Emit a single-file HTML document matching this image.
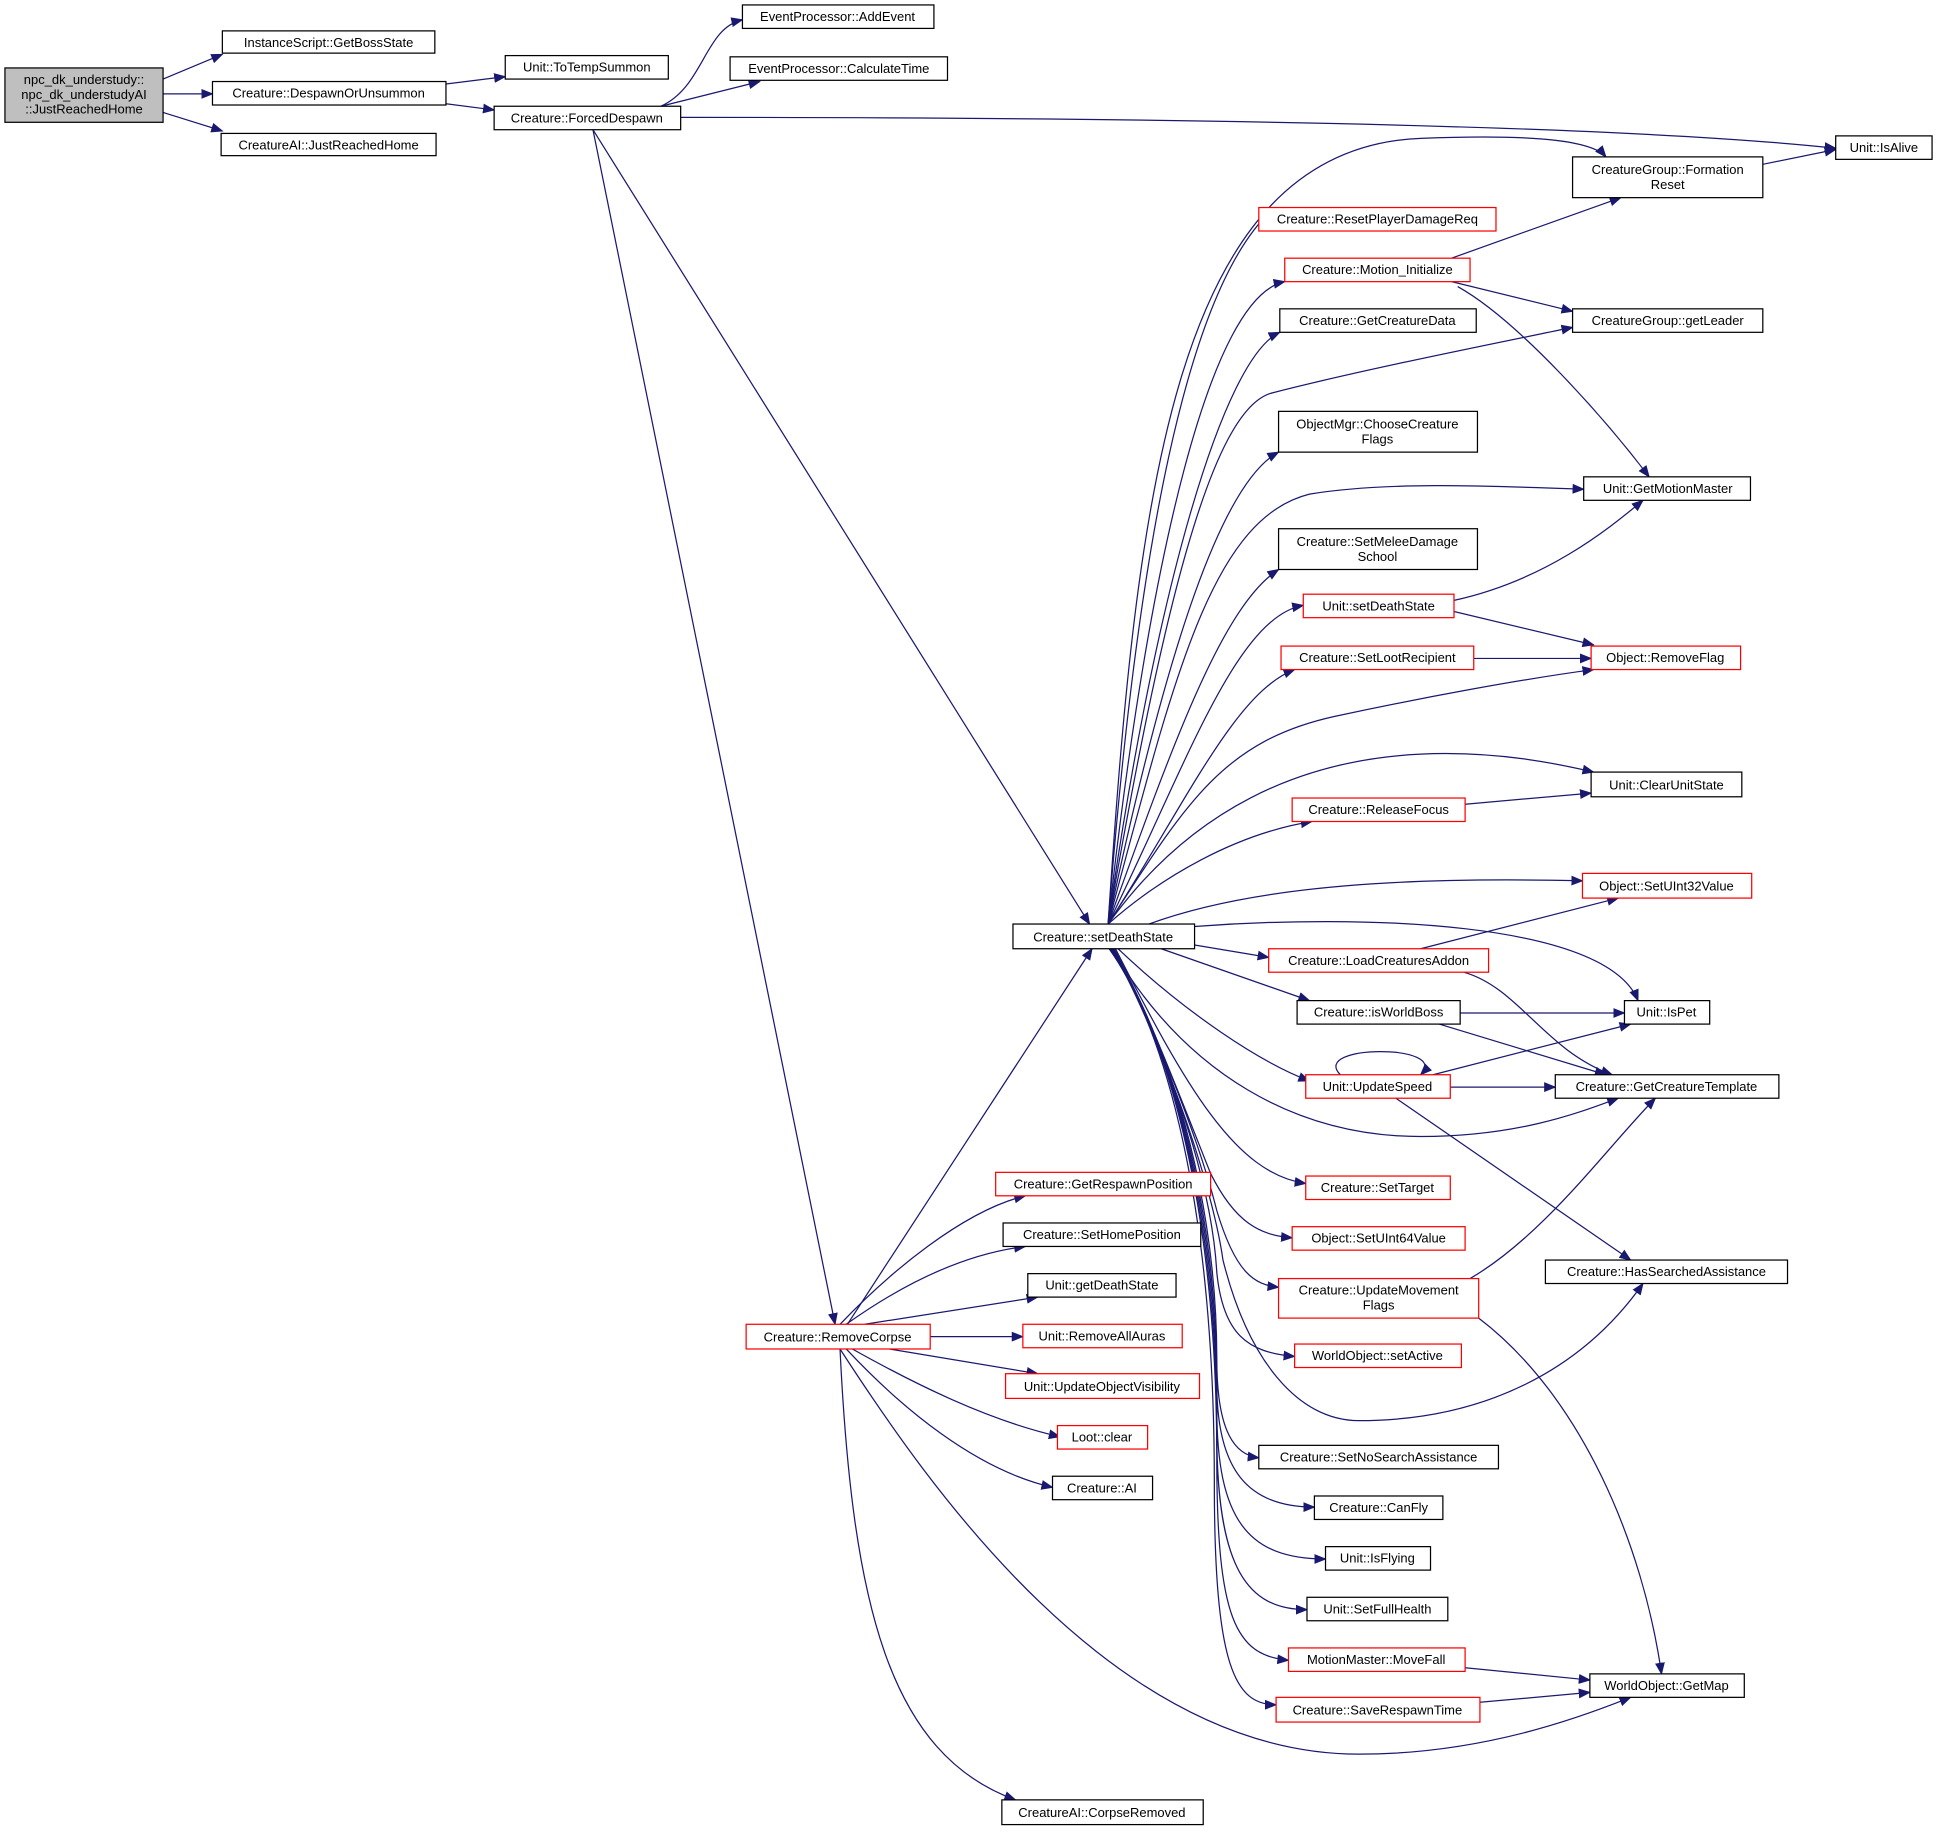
<!DOCTYPE html>
<html><head><meta charset="utf-8"><style>
html,body{margin:0;padding:0;background:#fff}
svg{display:block}
text{font-family:"Liberation Sans","DejaVu Sans",sans-serif;font-size:10.5px;fill:#000}
.n{fill:#fff;stroke:#000;stroke-width:1}
.r{fill:#fff;stroke:#f00;stroke-width:1}
.e{fill:none;stroke:#191970;stroke-width:1}
</style></head><body>
<svg width="1937" height="1832" viewBox="0 0 1568 1483" xmlns="http://www.w3.org/2000/svg">
<defs><marker id="a" markerWidth="10" markerHeight="8" refX="9" refY="4" orient="auto" markerUnits="userSpaceOnUse"><path d="M0,0 L10,4 L0,8 z" fill="#191970"/></marker></defs>
<g class="e" marker-end="url(#a)">
<path d="M132,64 L180,44"/>
<path d="M132,76 L172,76"/>
<path d="M132,91 L180,106"/>
<path d="M361,68 L409,62"/>
<path d="M361,84 L400,89"/>
<path d="M535,86 C570,70 570,23 601,16"/>
<path d="M535,86 L615,66"/>
<path d="M551,95 C900,95 1300,100 1486,120"/>
<path d="M480,105 L882,748"/>
<path d="M480,105 L676,1072"/>
<path d="M686,1072 L884,768"/>
<path d="M1427,133 L1486,121"/>
<path d="M1175,209 L1312,160"/>
<path d="M1175,228 L1273,252"/>
<path d="M1180,232 C1230,260 1300,340 1335,386"/>
<path d="M1177,486 C1250,470 1300,430 1330,405"/>
<path d="M1177,495 L1290,522"/>
<path d="M1193,533 L1288,533"/>
<path d="M1186,651 L1288,642"/>
<path d="M1150,768 L1310,727"/>
<path d="M1185,787 C1230,800 1250,850 1305,870"/>
<path d="M1182,820 L1315,820"/>
<path d="M1165,829 L1300,870"/>
<path d="M1085,870 C1060,845 1175,845 1150,870"/>
<path d="M1160,870 L1320,829"/>
<path d="M1174,880 L1259,880"/>
<path d="M1130,889 L1320,1020"/>
<path d="M1190,1035 C1250,1000 1300,930 1340,889"/>
<path d="M1197,1067 C1280,1130 1330,1250 1345,1355"/>
<path d="M1186,1350 L1287,1360"/>
<path d="M1198,1378 L1287,1370"/>
<path d="M680,1072 C720,1030 780,980 830,968"/>
<path d="M685,1072 C730,1040 780,1015 830,1009"/>
<path d="M700,1072 L840,1050"/>
<path d="M753,1082 L828,1082"/>
<path d="M720,1092 L840,1112"/>
<path d="M690,1092 C740,1120 800,1150 858,1163"/>
<path d="M685,1092 C730,1140 790,1190 852,1204"/>
<path d="M680,1092 C750,1200 900,1420 1100,1420 C1200,1420 1280,1390 1320,1374"/>
<path d="M680,1092 C690,1300 720,1420 822,1457"/>
<path d="M897,748 C920,400 950,120 1150,112 C1250,108 1290,115 1300,127"/>
<path d="M897,748 C920,450 960,230 1032,168"/>
<path d="M897,748 C930,450 980,240 1040,228"/>
<path d="M897,748 C935,480 990,290 1036,269"/>
<path d="M897,748 C940,500 980,330 1030,318 C1100,300 1200,280 1273,265"/>
<path d="M897,748 C945,520 990,390 1035,366"/>
<path d="M897,748 C950,550 980,420 1060,400 C1120,390 1200,393 1282,396"/>
<path d="M897,748 C950,600 990,490 1035,461"/>
<path d="M897,748 C960,620 1000,500 1055,490"/>
<path d="M897,748 C960,650 1000,560 1048,542"/>
<path d="M897,748 C960,650 990,600 1080,580 C1150,565 1230,550 1290,542"/>
<path d="M897,748 C960,660 1050,610 1170,610 C1220,610 1260,618 1290,625"/>
<path d="M897,748 C940,710 1000,675 1062,665"/>
<path d="M930,748 C1020,715 1150,710 1281,713"/>
<path d="M967,765 L1027,775"/>
<path d="M967,750 C1100,740 1300,745 1326,810"/>
<path d="M940,768 L1060,810"/>
<path d="M905,768 C960,820 1020,860 1060,875"/>
<path d="M900,768 C960,870 1050,920 1150,920 C1230,920 1280,900 1310,889"/>
<path d="M903,768 C960,880 1000,950 1057,958"/>
<path d="M902,768 C930,820 960,900 980,950 C1000,990 1020,1000 1046,1002"/>
<path d="M901,768 C930,820 970,920 985,980 C1000,1030 1015,1040 1035,1042"/>
<path d="M900,768 C930,820 980,940 985,1030 C990,1080 1010,1095 1048,1098"/>
<path d="M900,768 C935,830 980,950 990,1020 C1010,1100 1050,1150 1100,1150 C1200,1150 1280,1110 1330,1039"/>
<path d="M899,768 C935,820 985,950 985,1100 C985,1160 1000,1178 1019,1180"/>
<path d="M899,768 C935,820 985,950 985,1120 C985,1190 1010,1220 1064,1220"/>
<path d="M898,768 C935,820 985,950 985,1140 C985,1230 1010,1262 1073,1262"/>
<path d="M898,768 C935,820 985,950 985,1160 C985,1270 1010,1303 1058,1303"/>
<path d="M898,768 C935,820 985,950 985,1180 C985,1310 1000,1340 1043,1344"/>
<path d="M898,768 C935,820 983,950 983,1200 C983,1350 1000,1380 1033,1380"/>
</g>
<g>
<rect x="4" y="55" width="128" height="44" fill="#bfbfbf" stroke="#000"/>
<text x="68" y="68" text-anchor="middle">npc_dk_understudy::</text>
<text x="68" y="80" text-anchor="middle">npc_dk_understudyAI</text>
<text x="68" y="92" text-anchor="middle">::JustReachedHome</text>
</g>
<g text-anchor="middle">
<rect class="n" x="180" y="25" width="172" height="18"/><text x="266" y="38">InstanceScript::GetBossState</text>
<rect class="n" x="172" y="66" width="189" height="19"/><text x="266" y="79">Creature::DespawnOrUnsummon</text>
<rect class="n" x="179" y="108" width="174" height="18"/><text x="266" y="121">CreatureAI::JustReachedHome</text>
<rect class="n" x="409" y="45" width="132" height="19"/><text x="475" y="58">Unit::ToTempSummon</text>
<rect class="n" x="400" y="86" width="151" height="19"/><text x="475" y="99">Creature::ForcedDespawn</text>
<rect class="n" x="601" y="4" width="155" height="19"/><text x="678" y="17">EventProcessor::AddEvent</text>
<rect class="n" x="591" y="46" width="176" height="19"/><text x="679" y="59">EventProcessor::CalculateTime</text>
<rect class="n" x="1486" y="110" width="78" height="19"/><text x="1525" y="123">Unit::IsAlive</text>
<rect class="n" x="1273" y="127" width="154" height="33"/><text x="1350" y="141">CreatureGroup::Formation</text><text x="1350" y="153">Reset</text>
<rect class="r" x="1019" y="168" width="192" height="19"/><text x="1115" y="181">Creature::ResetPlayerDamageReq</text>
<rect class="r" x="1040" y="209" width="150" height="19"/><text x="1115" y="222">Creature::Motion_Initialize</text>
<rect class="n" x="1036" y="250" width="159" height="19"/><text x="1115" y="263">Creature::GetCreatureData</text>
<rect class="n" x="1273" y="250" width="154" height="19"/><text x="1350" y="263">CreatureGroup::getLeader</text>
<rect class="n" x="1035" y="333" width="161" height="33"/><text x="1115" y="347">ObjectMgr::ChooseCreature</text><text x="1115" y="359">Flags</text>
<rect class="n" x="1282" y="386" width="135" height="19"/><text x="1350" y="399">Unit::GetMotionMaster</text>
<rect class="n" x="1035" y="428" width="161" height="33"/><text x="1115" y="442">Creature::SetMeleeDamage</text><text x="1115" y="454">School</text>
<rect class="r" x="1055" y="481" width="122" height="19"/><text x="1116" y="494">Unit::setDeathState</text>
<rect class="r" x="1037" y="523" width="156" height="19"/><text x="1115" y="536">Creature::SetLootRecipient</text>
<rect class="r" x="1288" y="523" width="121" height="19"/><text x="1348" y="536">Object::RemoveFlag</text>
<rect class="n" x="1288" y="625" width="122" height="20"/><text x="1349" y="639">Unit::ClearUnitState</text>
<rect class="r" x="1046" y="646" width="140" height="19"/><text x="1116" y="659">Creature::ReleaseFocus</text>
<rect class="r" x="1281" y="707" width="137" height="20"/><text x="1349" y="721">Object::SetUInt32Value</text>
<rect class="n" x="820" y="748" width="147" height="20"/><text x="893" y="762">Creature::setDeathState</text>
<rect class="r" x="1027" y="768" width="178" height="19"/><text x="1116" y="781">Creature::LoadCreaturesAddon</text>
<rect class="n" x="1050" y="810" width="132" height="19"/><text x="1116" y="823">Creature::isWorldBoss</text>
<rect class="n" x="1315" y="810" width="69" height="19"/><text x="1349" y="823">Unit::IsPet</text>
<rect class="r" x="1057" y="870" width="117" height="19"/><text x="1115" y="883">Unit::UpdateSpeed</text>
<rect class="n" x="1259" y="870" width="181" height="19"/><text x="1349" y="883">Creature::GetCreatureTemplate</text>
<rect class="r" x="1057" y="952" width="117" height="19"/><text x="1115" y="965">Creature::SetTarget</text>
<rect class="r" x="1046" y="993" width="140" height="19"/><text x="1116" y="1006">Object::SetUInt64Value</text>
<rect class="r" x="1035" y="1035" width="162" height="32"/><text x="1116" y="1048">Creature::UpdateMovement</text><text x="1116" y="1060">Flags</text>
<rect class="n" x="1251" y="1020" width="196" height="19"/><text x="1349" y="1033">Creature::HasSearchedAssistance</text>
<rect class="r" x="1048" y="1088" width="135" height="19"/><text x="1115" y="1101">WorldObject::setActive</text>
<rect class="n" x="1019" y="1170" width="194" height="19"/><text x="1116" y="1183">Creature::SetNoSearchAssistance</text>
<rect class="n" x="1064" y="1211" width="104" height="19"/><text x="1116" y="1224">Creature::CanFly</text>
<rect class="n" x="1073" y="1252" width="85" height="19"/><text x="1115" y="1265">Unit::IsFlying</text>
<rect class="n" x="1058" y="1293" width="114" height="19"/><text x="1115" y="1306">Unit::SetFullHealth</text>
<rect class="r" x="1043" y="1334" width="143" height="19"/><text x="1114" y="1347">MotionMaster::MoveFall</text>
<rect class="n" x="1287" y="1355" width="125" height="19"/><text x="1349" y="1368">WorldObject::GetMap</text>
<rect class="r" x="1033" y="1374" width="165" height="20"/><text x="1115" y="1388">Creature::SaveRespawnTime</text>
<rect class="r" x="806" y="949" width="174" height="19"/><text x="893" y="962">Creature::GetRespawnPosition</text>
<rect class="n" x="812" y="990" width="160" height="19"/><text x="892" y="1003">Creature::SetHomePosition</text>
<rect class="n" x="832" y="1031" width="120" height="19"/><text x="892" y="1044">Unit::getDeathState</text>
<rect class="r" x="604" y="1072" width="149" height="20"/><text x="678" y="1086">Creature::RemoveCorpse</text>
<rect class="r" x="828" y="1072" width="129" height="19"/><text x="892" y="1085">Unit::RemoveAllAuras</text>
<rect class="r" x="814" y="1112" width="157" height="20"/><text x="892" y="1126">Unit::UpdateObjectVisibility</text>
<rect class="r" x="856" y="1154" width="73" height="19"/><text x="892" y="1167">Loot::clear</text>
<rect class="n" x="852" y="1195" width="81" height="19"/><text x="892" y="1208">Creature::AI</text>
<rect class="n" x="811" y="1457" width="163" height="20"/><text x="892" y="1471">CreatureAI::CorpseRemoved</text>
</g>
</svg>
</body></html>
